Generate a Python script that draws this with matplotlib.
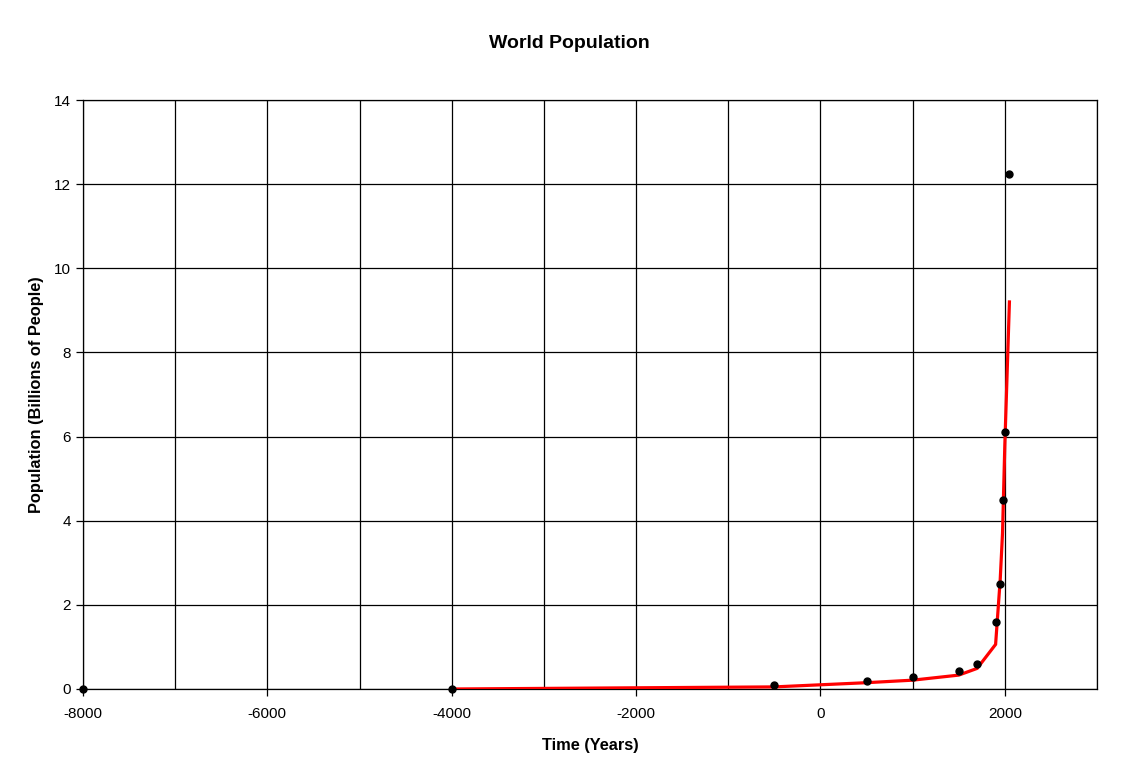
import matplotlib
matplotlib.use("Agg")
import matplotlib.pyplot as plt

# Observed data (points)
years = [-8000, -4000, -500, 500, 1000, 1500, 1700, 1900, 1950, 1975, 2000, 2050]
population = [0.005, 0.007, 0.1, 0.2, 0.28, 0.43, 0.6, 1.6, 2.5, 4.5, 6.1, 12.25]

# Model curve (red line)
model_years = [-4000, -500, 500, 1000, 1500, 1700, 1900, 1950, 1975, 2000, 2050]
model_pop = [0.0, 0.05, 0.15, 0.21, 0.33, 0.49, 1.06, 2.6, 3.7, 5.8, 9.2]

title = "World Population"
xlabel = "Time (Years)"
ylabel = "Population (Billions of People)"

plt.rcParams['font.family'] = ['Liberation Sans', 'DejaVu Sans']
plt.rcParams['axes.unicode_minus'] = False

fig = plt.figure(figsize=(11.38, 7.78), dpi=100)
ax = fig.add_axes([83/1138, 1-689/778, (1097-83)/1138, (689-100)/778])

ax.plot(model_years, model_pop, color='#ff0000', lw=2.3, zorder=3, solid_joinstyle='miter')
ax.plot(years, population, linestyle='none', marker='o', color='black',
        markersize=5, zorder=4, clip_on=False)

ax.set_xlim(-8000, 3000)
ax.set_ylim(0, 14)
ax.set_xticks(range(-8000, 3001, 2000))
ax.set_xticks(range(-8000, 3001, 1000), minor=True)
ax.set_yticks(range(0, 15, 2))
ax.grid(True, which='both', axis='x', color='black', lw=0.9)
ax.grid(True, which='major', axis='y', color='black', lw=0.9)
ax.tick_params(which='minor', length=0)
ax.tick_params(which='major', direction='out', length=5, width=0.9, labelsize=11, color='black')
ax.tick_params(axis='x', pad=8)
for s in ax.spines.values():
    s.set_color('black')
    s.set_linewidth(0.9)

fig.text(0.5, 1 - 43/778, title, fontsize=14, fontweight='bold', ha='center', va='center')
ax.set_xlabel(xlabel, fontsize=11.8, fontweight='bold', labelpad=12)
ax.set_ylabel(ylabel, fontsize=11.8, fontweight='bold', labelpad=7)

fig.savefig("out.png", dpi=100, facecolor='white')
